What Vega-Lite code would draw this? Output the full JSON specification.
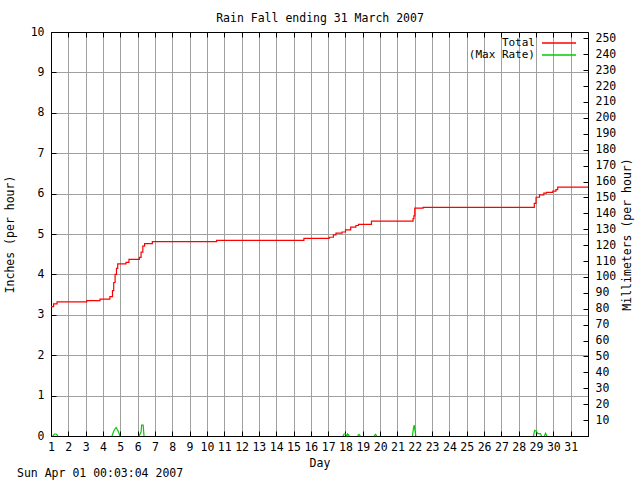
{
  "$schema": "https://vega.github.io/schema/vega-lite/v6.json",
  "width": 537,
  "height": 404,
  "autosize": "none",
  "padding": {"left": 51, "top": 32, "right": 52, "bottom": 44},
  "background": "white",
  "config": {
    "font": "DejaVu Sans Mono",
    "view": {"stroke": "black", "strokeWidth": 1},
    "axis": {
      "labelFont": "DejaVu Sans Mono",
      "labelFontSize": 11.5,
      "labelColor": "black",
      "titleFont": "DejaVu Sans Mono",
      "titleFontSize": 11.5,
      "titleFontWeight": "normal",
      "titleColor": "black",
      "domainColor": "black",
      "tickColor": "black",
      "gridColor": "#a0a0a0",
      "gridOpacity": 1,
      "tickSize": -5
    },
    "legend": {
      "title": null,
      "orient": "none",
      "padding": 0,
      "offset": 0,
      "symbolType": "stroke",
      "symbolSize": 1156,
      "symbolStrokeWidth": 1.5,
      "labelAlign": "right",
      "labelOffset": -42,
      "labelFont": "DejaVu Sans Mono",
      "labelFontSize": 11,
      "labelColor": "black"
    }
  },
  "title": {
    "text": "Sun Apr 01 00:03:04 2007",
    "orient": "bottom",
    "anchor": "start",
    "frame": "group",
    "font": "DejaVu Sans Mono",
    "fontSize": 11.5,
    "fontWeight": "normal",
    "color": "black",
    "dx": -34,
    "offset": -1
  },
  "datasets": {
    "total": [
      {"day": 1.0, "total": 3.20},
      {"day": 1.15, "total": 3.27},
      {"day": 1.35, "total": 3.32},
      {"day": 3.06, "total": 3.35},
      {"day": 3.83, "total": 3.39},
      {"day": 4.4, "total": 3.45},
      {"day": 4.55, "total": 3.6},
      {"day": 4.62, "total": 3.8},
      {"day": 4.7, "total": 4.0},
      {"day": 4.78, "total": 4.15},
      {"day": 4.85, "total": 4.26},
      {"day": 5.33, "total": 4.30},
      {"day": 5.5, "total": 4.37},
      {"day": 6.1, "total": 4.42},
      {"day": 6.2, "total": 4.55},
      {"day": 6.3, "total": 4.70},
      {"day": 6.4, "total": 4.76},
      {"day": 6.85, "total": 4.81},
      {"day": 10.56, "total": 4.84},
      {"day": 15.6, "total": 4.89},
      {"day": 17.06, "total": 4.92},
      {"day": 17.3, "total": 4.98},
      {"day": 17.45, "total": 5.02},
      {"day": 17.8, "total": 5.05},
      {"day": 18.0, "total": 5.10},
      {"day": 18.3, "total": 5.17},
      {"day": 18.6, "total": 5.21},
      {"day": 18.75, "total": 5.24},
      {"day": 19.5, "total": 5.32},
      {"day": 21.9, "total": 5.38},
      {"day": 21.95, "total": 5.45},
      {"day": 22.0, "total": 5.64},
      {"day": 22.48, "total": 5.66},
      {"day": 28.9, "total": 5.76},
      {"day": 29.0, "total": 5.91},
      {"day": 29.2, "total": 5.97},
      {"day": 29.45, "total": 6.01},
      {"day": 29.6, "total": 6.03},
      {"day": 29.97, "total": 6.06},
      {"day": 30.15, "total": 6.10},
      {"day": 30.25, "total": 6.16},
      {"day": 32.0, "total": 6.16}
    ],
    "rate": [
      {"day": 1.1, "rate": 0, "spike": "a"},
      {"day": 1.2, "rate": 0.05, "spike": "a"},
      {"day": 1.3, "rate": 0.05, "spike": "a"},
      {"day": 1.4, "rate": 0, "spike": "a"},
      {"day": 4.52, "rate": 0, "spike": "b"},
      {"day": 4.62, "rate": 0.12, "spike": "b"},
      {"day": 4.7, "rate": 0.18, "spike": "b"},
      {"day": 4.76, "rate": 0.21, "spike": "b"},
      {"day": 4.84, "rate": 0.15, "spike": "b"},
      {"day": 4.9, "rate": 0.1, "spike": "b"},
      {"day": 4.98, "rate": 0, "spike": "b"},
      {"day": 6.08, "rate": 0, "spike": "c"},
      {"day": 6.2, "rate": 0.1, "spike": "c"},
      {"day": 6.23, "rate": 0.27, "spike": "c"},
      {"day": 6.32, "rate": 0.27, "spike": "c"},
      {"day": 6.37, "rate": 0, "spike": "c"},
      {"day": 17.85, "rate": 0, "spike": "d"},
      {"day": 17.92, "rate": 0.05, "spike": "d"},
      {"day": 18.0, "rate": 0.05, "spike": "d"},
      {"day": 18.08, "rate": 0, "spike": "d"},
      {"day": 18.12, "rate": 0.05, "spike": "d"},
      {"day": 18.22, "rate": 0, "spike": "d"},
      {"day": 18.7, "rate": 0, "spike": "e"},
      {"day": 18.78, "rate": 0.04, "spike": "e"},
      {"day": 18.86, "rate": 0, "spike": "e"},
      {"day": 19.65, "rate": 0, "spike": "f"},
      {"day": 19.73, "rate": 0.04, "spike": "f"},
      {"day": 19.81, "rate": 0, "spike": "f"},
      {"day": 21.86, "rate": 0, "spike": "g"},
      {"day": 21.93, "rate": 0.2, "spike": "g"},
      {"day": 21.97, "rate": 0.27, "spike": "g"},
      {"day": 22.02, "rate": 0.12, "spike": "g"},
      {"day": 22.06, "rate": 0, "spike": "g"},
      {"day": 28.85, "rate": 0, "spike": "h"},
      {"day": 28.92, "rate": 0.14, "spike": "h"},
      {"day": 29.02, "rate": 0.12, "spike": "h"},
      {"day": 29.1, "rate": 0.06, "spike": "h"},
      {"day": 29.25, "rate": 0.06, "spike": "h"},
      {"day": 29.32, "rate": 0, "spike": "h"},
      {"day": 29.48, "rate": 0, "spike": "i"},
      {"day": 29.55, "rate": 0.07, "spike": "i"},
      {"day": 29.62, "rate": 0, "spike": "i"}
    ]
  },
  "layer": [
    {
      "data": {"name": "total"},
      "mark": {"type": "line", "interpolate": "step-after", "strokeWidth": 1.2},
      "encoding": {
        "x": {
          "field": "day", "type": "quantitative",
          "scale": {"domain": [1, 32], "nice": false, "zero": false},
          "axis": {
            "orient": "bottom",
            "values": [1,2,3,4,5,6,7,8,9,10,11,12,13,14,15,16,17,18,19,20,21,22,23,24,25,26,27,28,29,30,31],
            "grid": true,
            "labelPadding": 10,
            "labelFlush": false,
            "labelOverlap": false,
            "title": "Day",
            "titlePadding": 5
          }
        },
        "y": {
          "field": "total", "type": "quantitative",
          "scale": {"domain": [0, 10], "nice": false},
          "axis": {
            "orient": "left",
            "values": [0,1,2,3,4,5,6,7,8,9,10],
            "grid": true,
            "labelPadding": 12,
            "labelFlush": false,
            "title": "Inches (per hour)",
            "titlePadding": 15
          }
        },
        "color": {
          "datum": "Total",
          "type": "nominal",
          "scale": {"domain": ["Total"], "range": ["#ff0000"]},
          "legend": {"legendX": 490, "legendY": -7}
        }
      }
    },
    {
      "data": {"name": "rate"},
      "mark": {"type": "line", "strokeWidth": 1.2},
      "encoding": {
        "x": {"field": "day", "type": "quantitative", "scale": {"domain": [1, 32], "nice": false, "zero": false}, "axis": null},
        "y": {"field": "rate", "type": "quantitative", "scale": {"domain": [0, 10], "nice": false}, "axis": null},
        "detail": {"field": "spike"},
        "color": {
          "datum": "(Max Rate)",
          "type": "nominal",
          "scale": {"domain": ["(Max Rate)"], "range": ["#00cc00"]},
          "legend": {"legendX": 490, "legendY": 5}
        }
      }
    },
    {
      "mark": {"type": "rule", "opacity": 0},
      "encoding": {
        "x": {
          "datum": 1, "type": "quantitative",
          "scale": {"domain": [1, 32], "nice": false, "zero": false},
          "axis": {
            "orient": "top",
            "values": [1,2,3,4,5,6,7,8,9,10,11,12,13,14,15,16,17,18,19,20,21,22,23,24,25,26,27,28,29,30,31],
            "labels": false,
            "grid": false,
            "title": "Rain Fall ending 31 March 2007",
            "titlePadding": 8
          }
        },
        "y": {
          "datum": 0, "type": "quantitative",
          "scale": {"domain": [0, 254], "nice": false},
          "axis": {
            "orient": "right",
            "values": [0,10,20,30,40,50,60,70,80,90,100,110,120,130,140,150,160,170,180,190,200,210,220,230,240,250],
            "labelExpr": "datum.value == 0 ? '' : datum.label",
            "grid": false,
            "labelPadding": 12,
            "labelFlush": false,
            "labelOverlap": false,
            "title": "Millimeters (per hour)",
            "titleAngle": 270,
            "titlePadding": 17
          }
        }
      }
    }
  ],
  "resolve": {"scale": {"x": "independent", "y": "independent", "color": "independent"}}
}
